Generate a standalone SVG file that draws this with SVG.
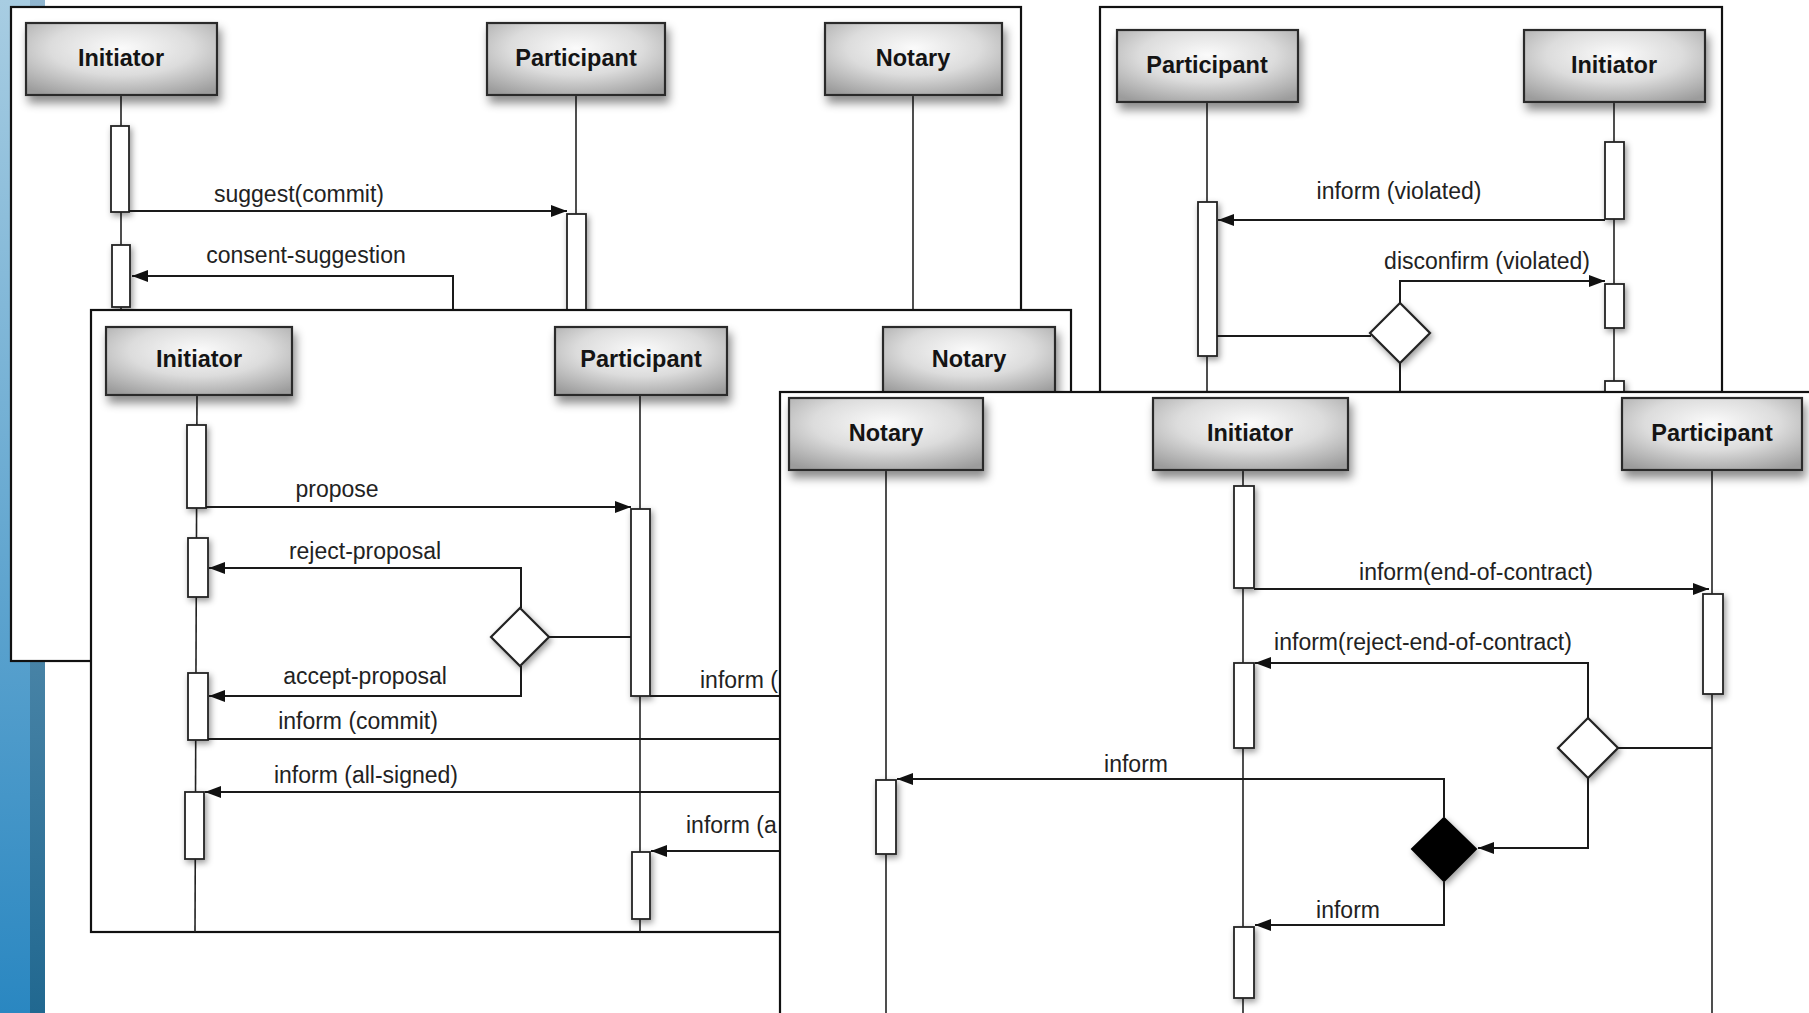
<svg xmlns="http://www.w3.org/2000/svg" width="1809" height="1013" viewBox="0 0 1809 1013">
<defs>
  <radialGradient id="boxg" cx="0.5" cy="0.35" r="0.75">
    <stop offset="0" stop-color="#fbfbfb"/>
    <stop offset="0.5" stop-color="#dcdcdc"/>
    <stop offset="1" stop-color="#9c9c9c"/>
  </radialGradient>
  <linearGradient id="blue1" x1="0" y1="0" x2="0" y2="1">
    <stop offset="0" stop-color="#a8cde2"/>
    <stop offset="1" stop-color="#2a87c1"/>
  </linearGradient>
  <linearGradient id="blue2" x1="0" y1="0" x2="0" y2="1">
    <stop offset="0" stop-color="#8fb5cf"/>
    <stop offset="1" stop-color="#216890"/>
  </linearGradient>
  <filter id="sh" x="-20%" y="-20%" width="150%" height="180%">
    <feDropShadow dx="3" dy="7" stdDeviation="5" flood-color="#000" flood-opacity="0.45"/>
  </filter>
  <filter id="sh2" x="-100%" y="-20%" width="300%" height="150%">
    <feDropShadow dx="2" dy="3" stdDeviation="3" flood-color="#000" flood-opacity="0.4"/>
  </filter>
  <marker id="ah" markerUnits="userSpaceOnUse" markerWidth="18" markerHeight="14" refX="16" refY="6" orient="auto">
    <path d="M0,0 L16,6 L0,12 z" fill="#111"/>
  </marker>
  <style>
    .frame{fill:#fff;stroke:#111;stroke-width:2.2}
    .box{fill:url(#boxg);stroke:#2b2b2b;stroke-width:2.2;filter:url(#sh)}
    .title{font-family:"Liberation Sans",Arial,sans-serif;font-weight:bold;font-size:23.5px;fill:#141414;text-anchor:middle}
    .lbl{font-family:"Liberation Sans",Arial,sans-serif;font-size:23px;fill:#222}
    .mid{text-anchor:middle}
    .life{stroke:#222;stroke-width:1.6;fill:none}
    .act{fill:#fff;stroke:#222;stroke-width:1.8;filter:url(#sh2)}
    .msg{stroke:#1a1a1a;stroke-width:2;fill:none}
    .arr{marker-end:url(#ah)}
    .dia{fill:#fff;stroke:#222;stroke-width:2.2;filter:url(#sh2)}
    .diab{fill:#000;stroke:#000;stroke-width:2;filter:url(#sh2)}
  </style>
</defs>

<g id="background">
  <rect x="0" y="0" width="1809" height="1013" fill="#fff"/>
  <rect x="0" y="0" width="30" height="1013" fill="url(#blue1)"/>
  <rect x="30" y="0" width="15" height="1013" fill="url(#blue2)"/>
</g>

<!-- Frame 1 : top-left -->
<g id="frame1">
  <rect class="frame" x="11" y="7" width="1010" height="654"/>
  <g id="f1-lifelines">
    <line class="life" x1="121" y1="95" x2="121" y2="309"/>
    <line class="life" x1="576" y1="95" x2="576" y2="309"/>
    <line class="life" x1="913" y1="95" x2="913" y2="309"/>
  </g>
  <g id="f1-initiator"><rect class="box" x="26" y="23" width="191" height="72"/><text class="title" x="121" y="66">Initiator</text></g>
  <g id="f1-participant"><rect class="box" x="487" y="23" width="178" height="72"/><text class="title" x="576" y="66">Participant</text></g>
  <g id="f1-notary"><rect class="box" x="825" y="23" width="177" height="72"/><text class="title" x="913" y="66">Notary</text></g>
  <g id="f1-act-i1"><rect class="act" x="111" y="126" width="18" height="86"/></g>
  <g id="f1-act-p1"><rect class="act" x="567" y="214" width="19" height="100"/></g>
  <g id="f1-act-i2"><rect class="act" x="112" y="245" width="18" height="62"/></g>
  <g id="f1-connectors">
    <line class="msg arr" x1="129" y1="211" x2="567" y2="211"/>
    <text class="lbl mid" x="299" y="202">suggest(commit)</text>
    <path class="msg arr" d="M453,309 V276 H132"/>
    <text class="lbl mid" x="306" y="263">consent-suggestion</text>
  </g>
</g>

<!-- Frame 3 : top-right -->
<g id="frame3">
  <rect class="frame" x="1100" y="7" width="622" height="385"/>
  <g id="f3-lifelines">
    <line class="life" x1="1207" y1="102" x2="1207" y2="392"/>
    <line class="life" x1="1614" y1="102" x2="1614" y2="392"/>
  </g>
  <g id="f3-participant"><rect class="box" x="1117" y="30" width="181" height="72"/><text class="title" x="1207" y="73">Participant</text></g>
  <g id="f3-initiator"><rect class="box" x="1524" y="30" width="181" height="72"/><text class="title" x="1614" y="73">Initiator</text></g>
  <g id="f3-act-i1"><rect class="act" x="1605" y="142" width="19" height="77"/></g>
  <g id="f3-act-p1"><rect class="act" x="1198" y="202" width="19" height="154"/></g>
  <g id="f3-act-i2"><rect class="act" x="1605" y="284" width="19" height="44"/></g>
  <g id="f3-act-i3"><rect class="act" x="1605" y="381" width="19" height="20"/></g>
  <g id="f3-decision"><path class="dia" d="M1400,303 L1430,333 L1400,363 L1370,333 z"/></g>
  <g id="f3-connectors">
    <line class="msg arr" x1="1605" y1="220" x2="1218" y2="220"/>
    <text class="lbl mid" x="1399" y="199">inform (violated)</text>
    <path class="msg arr" d="M1400,303 V281 H1605"/>
    <text class="lbl mid" x="1487" y="269">disconfirm (violated)</text>
    <line class="msg" x1="1217" y1="336" x2="1371" y2="336"/>
    <line class="msg" x1="1400" y1="363" x2="1400" y2="392"/>
  </g>
</g>

<!-- Frame 2 : middle-left -->
<g id="frame2">
  <rect class="frame" x="91" y="310" width="980" height="622"/>
  <g id="f2-lifelines">
    <line class="life" x1="197" y1="395" x2="195" y2="932"/>
    <line class="life" x1="640" y1="395" x2="640" y2="932"/>
  </g>
  <g id="f2-initiator"><rect class="box" x="106" y="327" width="186" height="68"/><text class="title" x="199" y="367">Initiator</text></g>
  <g id="f2-participant"><rect class="box" x="555" y="327" width="172" height="68"/><text class="title" x="641" y="367">Participant</text></g>
  <g id="f2-notary"><rect class="box" x="883" y="327" width="172" height="68"/><text class="title" x="969" y="367">Notary</text></g>
  <g id="f2-act-i1"><rect class="act" x="187" y="425" width="19" height="83"/></g>
  <g id="f2-act-p1"><rect class="act" x="631" y="509" width="19" height="187"/></g>
  <g id="f2-act-i2"><rect class="act" x="188" y="538" width="20" height="59"/></g>
  <g id="f2-act-i3"><rect class="act" x="188" y="673" width="20" height="67"/></g>
  <g id="f2-act-i4"><rect class="act" x="185" y="792" width="19" height="67"/></g>
  <g id="f2-act-p2"><rect class="act" x="632" y="852" width="18" height="67"/></g>
  <g id="f2-decision"><path class="dia" d="M520,608 L549,637 L520,666 L491,637 z"/></g>
  <g id="f2-connectors">
    <line class="msg arr" x1="206" y1="507" x2="631" y2="507"/>
    <text class="lbl mid" x="337" y="497">propose</text>
    <path class="msg arr" d="M521,608 V568 H209"/>
    <text class="lbl mid" x="365" y="559">reject-proposal</text>
    <line class="msg" x1="549" y1="637" x2="631" y2="637"/>
    <path class="msg arr" d="M521,666 V696 H209"/>
    <text class="lbl mid" x="365" y="684">accept-proposal</text>
    <line class="msg" x1="650" y1="696" x2="790" y2="696"/>
    <text class="lbl" x="700" y="688">inform (</text>
    <line class="msg" x1="208" y1="739" x2="790" y2="739"/>
    <text class="lbl mid" x="358" y="729">inform (commit)</text>
    <line class="msg arr" x1="790" y1="792" x2="205" y2="792"/>
    <text class="lbl mid" x="366" y="783">inform (all-signed)</text>
    <line class="msg arr" x1="790" y1="851" x2="651" y2="851"/>
    <text class="lbl" x="686" y="833">inform (a</text>
  </g>
</g>

<!-- Frame 4 : bottom-right -->
<g id="frame4">
  <rect class="frame" x="780" y="392" width="1060" height="660"/>
  <g id="f4-lifelines">
    <line class="life" x1="886" y1="470" x2="886" y2="1013"/>
    <line class="life" x1="1243" y1="470" x2="1243" y2="1013"/>
    <line class="life" x1="1712" y1="470" x2="1712" y2="1013"/>
  </g>
  <g id="f4-notary"><rect class="box" x="789" y="398" width="194" height="72"/><text class="title" x="886" y="441">Notary</text></g>
  <g id="f4-initiator"><rect class="box" x="1153" y="398" width="195" height="72"/><text class="title" x="1250" y="441">Initiator</text></g>
  <g id="f4-participant"><rect class="box" x="1622" y="398" width="180" height="72"/><text class="title" x="1712" y="441">Participant</text></g>
  <g id="f4-act-i1"><rect class="act" x="1234" y="486" width="20" height="102"/></g>
  <g id="f4-act-p1"><rect class="act" x="1703" y="594" width="20" height="100"/></g>
  <g id="f4-act-i2"><rect class="act" x="1234" y="663" width="20" height="85"/></g>
  <g id="f4-act-n1"><rect class="act" x="876" y="780" width="20" height="74"/></g>
  <g id="f4-act-i3"><rect class="act" x="1234" y="927" width="20" height="71"/></g>
  <g id="f4-decision"><path class="dia" d="M1588,718 L1618,748 L1588,778 L1558,748 z"/></g>
  <g id="f4-merge"><path class="diab" d="M1444,818 L1476,849 L1444,881 L1412,849 z"/></g>
  <g id="f4-connectors">
    <line class="msg arr" x1="1254" y1="589" x2="1709" y2="589"/>
    <text class="lbl mid" x="1476" y="580">inform(end-of-contract)</text>
    <path class="msg arr" d="M1588,718 V663 H1255"/>
    <text class="lbl mid" x="1423" y="650">inform(reject-end-of-contract)</text>
    <line class="msg" x1="1618" y1="748" x2="1712" y2="748"/>
    <path class="msg arr" d="M1588,778 V848 H1478"/>
    <path class="msg arr" d="M1444,818 V779 H897"/>
    <text class="lbl mid" x="1136" y="772">inform</text>
    <path class="msg arr" d="M1444,881 V925 H1255"/>
    <text class="lbl mid" x="1348" y="918">inform</text>
  </g>
</g>
</svg>
